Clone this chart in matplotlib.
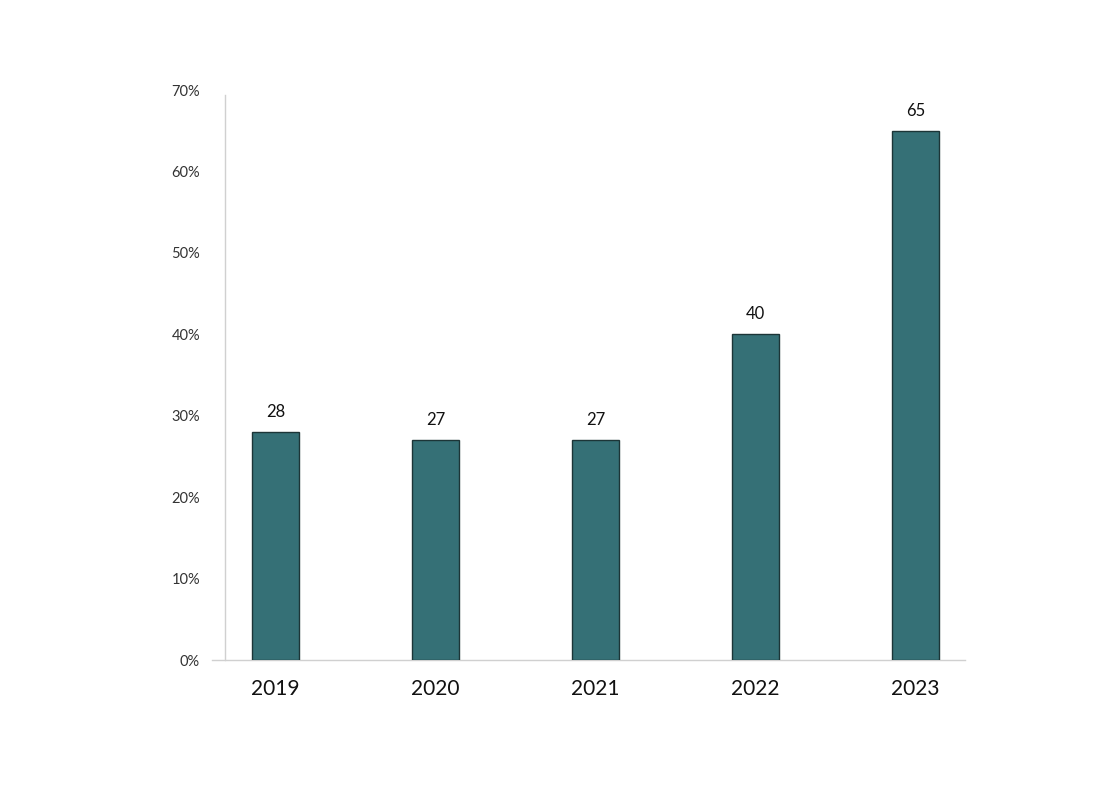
import matplotlib
matplotlib.use("Agg")
import matplotlib.pyplot as plt
from matplotlib.ticker import FuncFormatter

years = ["2019", "2020", "2021", "2022", "2023"]
values = [28, 27, 27, 40, 65]
yticks = [0, 10, 20, 30, 40, 50, 60, 70]

plt.rcParams['font.family'] = ['Lato', 'DejaVu Sans']

fig = plt.figure(figsize=(10.94, 8), dpi=100)
ax = fig.add_axes([212/1094, 140/800, (965-212)/1094, 570/800])

x = list(range(len(years)))
ax.bar(x, values, width=0.29, color="#357076", edgecolor="#1c3537", linewidth=1.0, zorder=3)

for xi, v in zip(x, values):
    ax.text(xi, v + 1.5, str(v), ha="center", va="bottom", fontsize=12, color="#111111")

ax.set_xlim(-0.397, 4.31)
ax.set_ylim(0, 70)
ax.set_xticks(x)
ax.set_xticklabels(years, fontsize=15, color="#111111")
ax.set_yticks(yticks)
ax.yaxis.set_major_formatter(FuncFormatter(lambda v, p: f"{int(v)}%"))
ax.tick_params(axis="y", length=0, pad=18, labelsize=10.5, labelcolor="#333333")
ax.tick_params(axis="x", length=0, pad=14)

for s in ["top", "right"]:
    ax.spines[s].set_visible(False)
ax.spines["left"].set_position(("data", -0.316))
ax.spines["left"].set_bounds(0, 69.4)
ax.spines["left"].set_color("#d0d0d0")
ax.spines["bottom"].set_color("#d0d0d0")
ax.spines["left"].set_linewidth(1.0)
ax.spines["bottom"].set_linewidth(1.0)

fig.savefig("out.png", dpi=100)
